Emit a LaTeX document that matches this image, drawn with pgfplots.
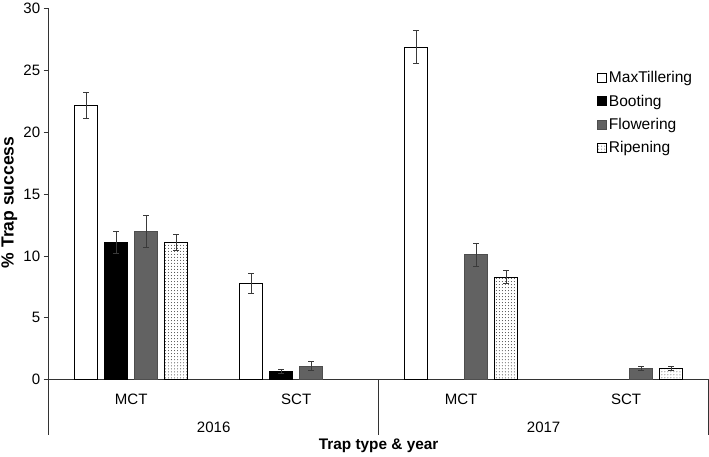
\documentclass[border=0pt]{standalone}
\usepackage{fontspec}
\setmainfont{Liberation Sans}
\usepackage{pgfplots}
\usepackage{pgfplotstable}
\pgfplotsset{compat=1.18}
\usetikzlibrary{patterns}
\definecolor{flow}{HTML}{626262}
\definecolor{errc}{HTML}{3A3A3A}
\pgfplotstableread{
x y e
0 22.2 1.05
1 7.8 0.8
2 26.9 1.35
}\maxt
\pgfplotstableread{
x y e
0 11.1 0.9
1 0.7 0.15
}\boot
\pgfplotstableread{
x y e
0 12.0 1.3
1 1.1 0.35
2 10.1 0.9
3 0.9 0.15
}\flow
\pgfplotstableread{
x y e
0 11.1 0.65
2 8.3 0.55
3 0.9 0.15
}\ripe
\begin{document}
\begin{tikzpicture}
\begin{axis}[
  scale only axis, width=658pt, height=370pt,
  xmin=-0.5, xmax=3.5, ymin=0, ymax=30,
  clip=false,
  axis x line*=bottom, axis y line*=left,
  axis line style={line width=0.8pt, black!80},
  ybar=7pt, bar width=23pt,
  xtick={0,1,2,3}, xticklabels={MCT,SCT,MCT,SCT},
  x tick style={draw=none},
  ytick={0,5,...,30},
  y tick style={black!80, line width=0.8pt},
  tick align=outside, major tick length=5pt,
  xticklabel style={yshift=-6pt},
  tick label style={font=\fontsize{15}{18}\selectfont},
  /pgf/number format/assume math mode=true,
  ylabel={\textbf{\% Trap success}},
  every axis y label/.style={at={(axis description cs:-0.0595,0.478)}, rotate=90, anchor=center, inner sep=1.5pt, font=\fontsize{17.5}{20}\selectfont},
  xlabel={\textbf{Trap type \& year}},
  every axis x label/.style={at={(axis description cs:0.5,-0.178)}, anchor=center, font=\fontsize{15.3}{18}\selectfont},
  legend style={draw=none, fill=none, at={(axis description cs:0.826,0.842)}, anchor=north west,
    font=\fontsize{15.5}{18}\selectfont, row sep=6.5pt, /tikz/every even column/.append style={column sep=1pt}},
  legend cell align=left,
  legend image code/.code={\draw[#1] (0pt,-4.5pt) rectangle (9pt,4.5pt);},
  error bars/error bar style={errc, line width=0.8pt},
  error bars/error mark options={rotate=90, mark size=3pt, errc, line width=0.8pt},
]
\addplot[draw=black, fill=white, line width=0.9pt, error bars/.cd, y dir=both, y explicit] table[x=x,y=y,y error=e]{\maxt};
\addplot[draw=black, fill=black, line width=0.9pt, error bars/.cd, y dir=both, y explicit] table[x=x,y=y,y error=e]{\boot};
\addplot[draw=flow!80!black, fill=flow, line width=0.9pt, error bars/.cd, y dir=both, y explicit] table[x=x,y=y,y error=e]{\flow};
\addplot[draw=black, fill=white, line width=0.9pt, postaction={pattern=dots, pattern color=black!75}, error bars/.cd, y dir=both, y explicit] table[x=x,y=y,y error=e]{\ripe};
\legend{MaxTillering, Booting, Flowering, Ripening}
\draw[black!80, line width=0.8pt] (axis cs:-0.5,0) -- ([yshift=-55pt]axis cs:-0.5,0);
\draw[black!80, line width=0.8pt] (axis cs:1.5,0) -- ([yshift=-55pt]axis cs:1.5,0);
\draw[black!80, line width=0.8pt] (axis cs:3.5,0) -- ([yshift=-55pt]axis cs:3.5,0);
\node[font=\fontsize{15}{18}\selectfont] at ([yshift=-47pt]axis cs:0.5,0) {2016};
\node[font=\fontsize{15}{18}\selectfont] at ([yshift=-47pt]axis cs:2.5,0) {2017};
\end{axis}
\end{tikzpicture}
\end{document}
